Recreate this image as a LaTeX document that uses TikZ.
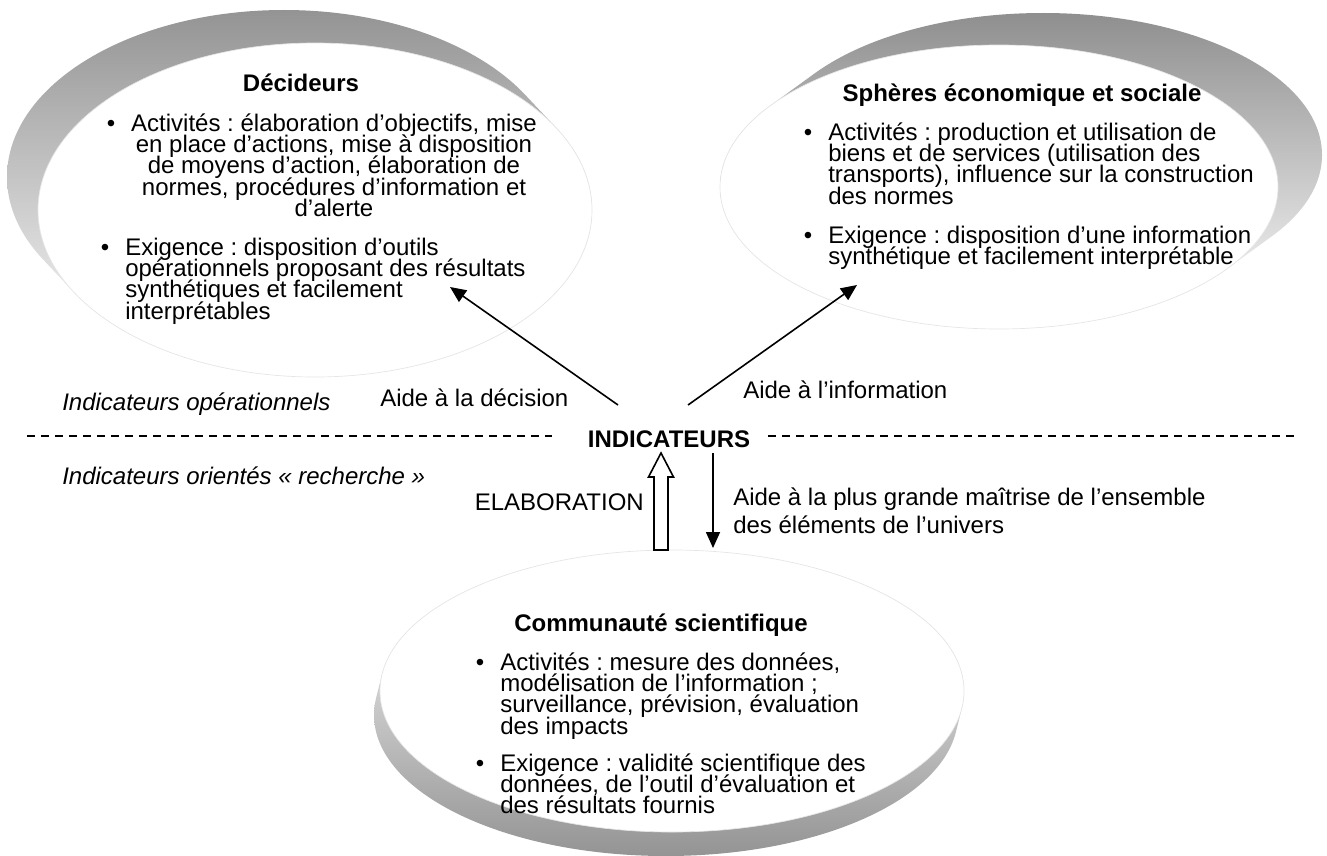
\documentclass[tikz,border=0pt]{standalone}
\usepackage{fontspec}
\setmainfont{Liberation Sans}
\usetikzlibrary{arrows.meta}
\frenchspacing

\newcommand{\taille}{\fontsize{18pt}{16pt}\selectfont}
\newcommand{\puce}{\leavevmode\llap{\textbullet\hspace{12pt}}}
\newcommand{\bloc}[2]{\parbox[t]{#1}{\lineskiplimit=-30pt\relax #2}}

\tikzset{
  disque/.style={fill=white, draw=black!10, line width=0.5pt},
  titre/.style={font=\taille\bfseries, inner sep=0pt, anchor=base},
  texte/.style={font=\taille, inner sep=0pt, anchor=base west},
  fleche/.style={line width=1.2pt, -{Triangle[length=12pt,width=10.5pt]}},
  creuse/.style={line width=1.2pt, fill=white, line join=miter},
  separation/.style={line width=1pt, dash pattern=on 6pt off 4.5pt}
}

\begin{document}
\begin{tikzpicture}[x=0.75pt, y=-0.75pt, font=\taille]
\useasboundingbox (0,0) rectangle (1327,856);

% centres des disques
\coordinate (dec) at (315,210);
\coordinate (sph) at (999,187);
\coordinate (com) at (672,691);

% tranches grises
\shade[top color=black!42, bottom color=white]
  \foreach \k in {0,...,30} {([shift={(-31*\k/30,-33*\k/30)}]dec) ellipse [x radius=277, y radius=167]};
\shade[top color=black!44, bottom color=white]
  \foreach \k in {0,...,30} {([shift={(44*\k/30,-32*\k/30)}]sph) ellipse [x radius=279, y radius=142]};
\shade[top color=white, bottom color=black!42]
  \foreach \k in {0,...,30} {([shift={(-6*\k/30,24*\k/30)}]com) ellipse [x radius=292, y radius=141]};

% faces blanches
\path[disque] (dec) ellipse [x radius=277, y radius=167];
\path[disque] (sph) ellipse [x radius=279, y radius=142];
\path[disque] (com) ellipse [x radius=292, y radius=141];

% Decideurs
\node[titre] (dec-titre) at (301,91) {Décideurs};
\node[texte, anchor=base] (dec-act) at (334,131) {\bloc{340pt}{\centering
  \puce Activités : élaboration d’objectifs, mise\\
  en place d’actions, mise à disposition\\
  de moyens d’action, élaboration de\\
  normes, procédures d’information et\\
  d’alerte}};
\node[texte] (dec-exi) at (125,255) {\bloc{340pt}{\raggedright
  \puce Exigence : disposition d’outils\\
  opérationnels proposant des résultats\\
  synthétiques et facilement\\
  interprétables}};

% Spheres economique et sociale
\node[titre] (sph-titre) at (1022,102) {Sphères économique et sociale};
\node[texte] (sph-act) at (828,140) {\bloc{340pt}{\raggedright
  \puce Activités : production et utilisation de\\
  biens et de services (utilisation des\\
  transports), influence sur la construction\\
  des normes}};
\node[texte] (sph-exi) at (828,243) {\bloc{340pt}{\raggedright
  \puce Exigence : disposition d’une information\\
  synthétique et facilement interprétable}};

% Communaute scientifique
\node[titre] (com-titre) at (661,631) {Communauté scientifique};
\node[texte] (com-act) at (500,670) {\bloc{340pt}{\raggedright
  \puce Activités : mesure des données,\\
  modélisation de l’information ;\\
  surveillance, prévision, évaluation\\
  des impacts}};
\node[texte] (com-exi) at (500,771) {\bloc{340pt}{\raggedright
  \puce Exigence : validité scientifique des\\
  données, de l’outil d’évaluation et\\
  des résultats fournis}};

% indicateurs
\node[titre] (ind) at (669,447) {INDICATEURS};
\draw[separation] (27,436) -- (552,436);
\draw[separation] (768,436) -- (1298,436);

\node[texte, font=\taille\itshape] (ind-op) at (62,410) {Indicateurs opérationnels};
\node[texte, font=\taille\itshape] (ind-rech) at (62,484) {Indicateurs orientés « recherche »};
\node[texte] (aide-dec) at (380,406) {Aide à la décision};
\node[texte] (aide-inf) at (743,398) {Aide à l’information};
\node[texte, anchor=base east] (ela) at (644,510) {ELABORATION};
\node[texte] (aide-mai) at (733,505) {\bloc{400pt}{\fontsize{18pt}{21pt}\selectfont\raggedright
  Aide à la plus grande maîtrise de l’ensemble\\
  des éléments de l’univers}};

% fleches
\coordinate (dep-dec) at (618,405);
\coordinate (dep-sph) at (688,405);
\coordinate (dec-pt) at (450,287);
\coordinate (sph-pt) at (857,285);
\coordinate (dep-com) at (713,453);
\coordinate (com-pt) at (713,548);
\coordinate (ela-pt) at (661,453);

\draw[fleche] (dep-dec) -- (dec-pt);
\draw[fleche] (dep-sph) -- (sph-pt);
\draw[fleche] (dep-com) -- (com-pt);
\draw[creuse] (ela-pt) -- ++(12.5,24) -- ++(-5.5,0) -- ++(0,73) -- ++(-14,0)
  -- ++(0,-73) -- ++(-5.5,0) -- cycle;
\end{tikzpicture}
\end{document}
